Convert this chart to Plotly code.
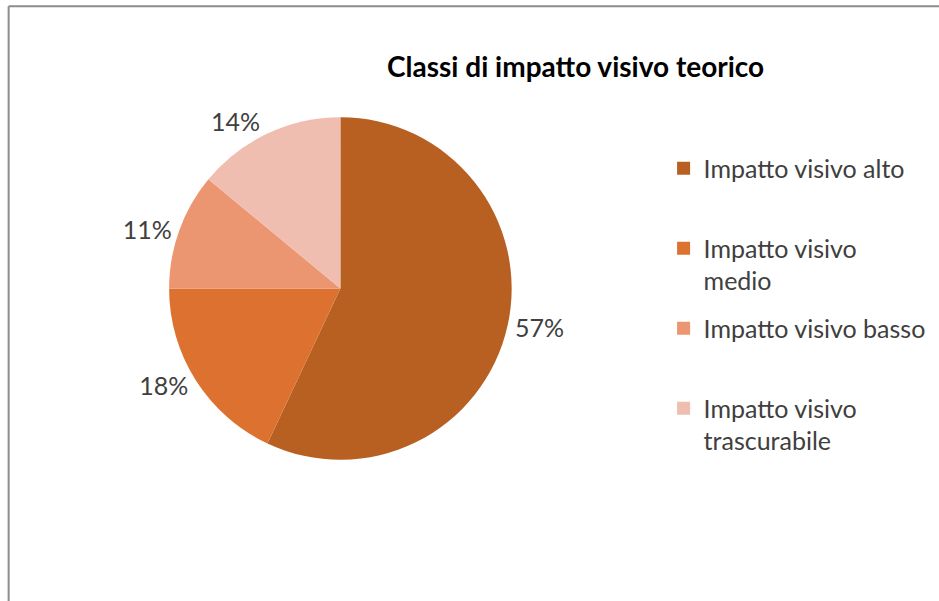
import plotly.graph_objects as go

labels = ["Impatto visivo alto", "Impatto visivo medio", "Impatto visivo basso", "Impatto visivo trascurabile"]
legend_text = ["Impatto visivo alto<br> ", "Impatto visivo<br>medio", "Impatto visivo basso<br> ", "Impatto visivo<br>trascurabile"]
values = [57, 18, 11, 14]
colors = ["#B85F22", "#DD7230", "#EB9670", "#F0BEB0"]
title_text = "Classi di impatto visivo teorico"

FONT = "Lato"

fig = go.Figure()
fig.add_trace(go.Pie(
    labels=labels,
    values=values,
    sort=False,
    direction="clockwise",
    rotation=0,
    marker=dict(colors=colors, line=dict(width=0)),
    texttemplate="%{percent:.0%}",
    textposition="outside",
    textfont=dict(family=FONT, size=25, color="#404040"),
    domain=dict(x=[0.08, 0.645], y=[0.235, 0.805]),
    hoverinfo="label+percent",
    showlegend=False,
))

# legend entries (one group per category so they can be spaced like the original)
for lab, txt, col in zip(labels, legend_text, colors):
    fig.add_trace(go.Scatter(
        x=[None], y=[None], mode="markers", name=txt,
        marker=dict(symbol="square", size=13, color=col),
        legendgroup=lab, showlegend=True, hoverinfo="skip",
    ))

fig.update_layout(
    width=939, height=601,
    margin=dict(l=0, r=0, t=0, b=0, autoexpand=False),
    paper_bgcolor="white",
    plot_bgcolor="white",
    xaxis=dict(visible=False),
    yaxis=dict(visible=False),
    title=dict(text="<b>" + title_text + "</b>",
               x=0.613, xanchor="center", y=0.888, yanchor="middle",
               font=dict(family=FONT, size=28, color="#000000")),
    legend=dict(x=0.7067, xanchor="left", y=0.758, yanchor="top",
                font=dict(family=FONT, size=25, color="#404040"),
                valign="top", tracegroupgap=12, itemwidth=30, maxheight=560,
                bgcolor="rgba(0,0,0,0)"),
    shapes=[
        dict(type="line", xref="paper", yref="paper", x0=0.0092, x1=1.0, y0=0.9895, y1=0.9895,
             line=dict(color="#8C8C8C", width=2), layer="below"),
        dict(type="line", xref="paper", yref="paper", x0=0.0092, x1=0.0092, y0=0.0, y1=0.9895,
             line=dict(color="#8C8C8C", width=2), layer="below"),
    ],
)

fig.write_html("out.html")
